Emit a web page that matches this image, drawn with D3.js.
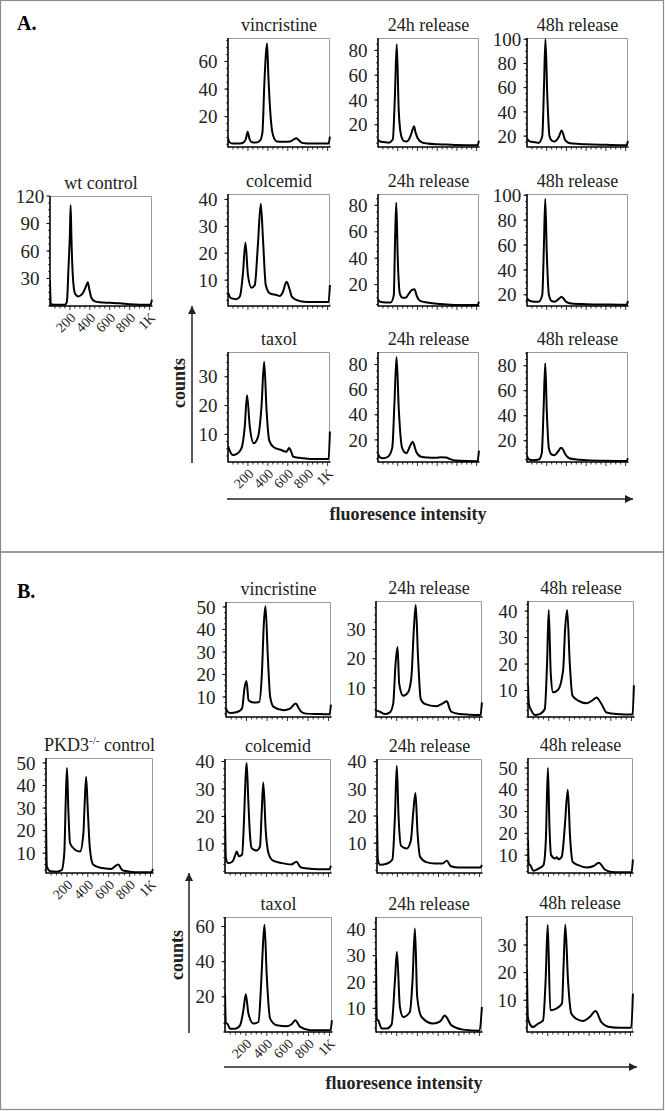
<!DOCTYPE html>
<html><head><meta charset="utf-8">
<script src="https://cdn.jsdelivr.net/npm/d3@7"></script>
<style>
html,body{margin:0;padding:0;background:#fff;}
svg{display:block;}
svg text{font-family:"Liberation Serif","DejaVu Serif",serif;}
</style></head>
<body>
<script>
// ---------- DATA (fluorescence channel, counts) ----------
const xTickValues = [200, 400, 600, 800, 1000];
const xTickLabels = ["200", "400", "600", "800", "1K"];

// Panel A (wt)
const aWtControl = [[0,28],[8,2],[40,1.5],[150,1.5],[170,5],[185,40],[200,80],[207,110],[215,75],[228,35],[250,14],[285,10.5],[330,14],[360,21],[380,26],[395,18],[415,9],[450,5],[500,4],[600,3.5],[700,3],[800,2],[900,1.5],[1010,1.5],[1023,7]];
const aVinc = [[0,4.5],[10,2],[40,0.5],[120,0.5],[160,1.5],[180,4],[197,9],[215,4],[240,1.5],[280,1.2],[320,2.5],[345,8],[365,44],[380,65],[392,73],[405,50],[423,25],[450,7],[490,2],[550,1.8],[625,2],[660,3.5],[686,4.3],[710,3],[744,1],[800,0.6],[900,0.5],[1010,0.5],[1023,5.5]];
const aVinc24 = [[0,8],[20,6.5],[60,6],[110,5.5],[150,8],[170,40],[190,85],[210,32],[235,11],[260,7],[290,6.5],[330,11],[350,16],[365,18.7],[380,14],[400,9.5],[450,5.5],[500,4.8],[600,4.2],[700,4],[800,3.6],[900,3.5],[1010,3.5],[1023,7]];
const aVinc48 = [[0,18],[30,15.5],[80,15],[120,14.5],[155,20],[172,60],[187,100],[205,55],[228,20],[255,16],[280,15.5],[320,19],[352,24.6],[370,21],[385,17],[420,14.5],[460,13.8],[600,13.2],[800,12.8],[1010,12.5],[1023,16]];
const aColc = [[0,5.5],[30,3.3],[85,2.9],[120,4],[150,12.5],[175,24],[200,12],[236,7.2],[269,8.2],[300,23],[329,38.4],[352,24.7],[379,8.2],[420,5.1],[487,4.5],[520,4.1],[550,5.5],[588,9.4],[615,7],[640,3.9],[690,2.6],[790,1.9],[900,1.9],[1010,1.9],[1023,8.2]];
const aColc24 = [[0,9],[20,7],[80,6.5],[130,6.5],[160,12],[172,50],[185,82],[200,40],[222,13],[250,10],[280,10],[320,14],[345,16],[370,16.5],[395,11],[430,7.5],[500,6.5],[600,5.5],[700,5],[800,4.5],[1010,4.5],[1023,7]];
const aColc48 = [[0,17],[30,15],[80,14.5],[120,14.5],[155,20],[170,55],[185,97],[200,55],[222,20],[250,15],[280,14.5],[320,16.5],[350,18.5],[370,17],[395,14.5],[450,13],[600,12.5],[800,12.2],[1010,12],[1023,15]];
const aTaxol = [[0,6],[15,4.5],[50,2.8],[90,3.2],[135,5.1],[168,12.6],[191,23.6],[219,12.6],[259,6.9],[302,9.2],[336,19.6],[363,35.2],[387,18.4],[413,8],[453,5.7],[538,4.5],[588,4],[614,5.3],[640,3.5],[655,2.2],[755,1.7],[890,1.4],[1010,1.4],[1023,11]];
const aTaxol24 = [[0,9],[20,6],[50,5.3],[101,6.6],[145,14],[168,52],[188,86],[211,44],[245,13.4],[286,9.4],[330,16],[352,18.6],[370,15],[387,10.6],[437,6.6],[500,6],[588,5.8],[640,6.2],[689,6],[740,4.5],[789,3.5],[900,3.1],[1010,3],[1023,11.5]];
const aTaxol48 = [[0,8],[20,5],[60,4.5],[120,5],[150,10],[168,45],[185,82],[200,45],[222,14],[250,9],[280,8.5],[320,12],[345,14.5],[365,13],[390,9],[430,6],[500,5],[600,4.5],[800,4],[1010,3.8],[1023,6]];

// Panel B (PKD3-/-)
const bControl = [[0,27],[8,4],[40,2],[100,1.8],[150,2.5],[175,10],[190,35],[201,47.8],[214,29],[230,14.4],[278,11.5],[326,10.7],[358,18.9],[370,32],[384,43.8],[400,29],[420,12],[450,5],[520,3.5],[620,3],[690,5],[730,2.5],[800,1.8],[900,1.5],[1010,1.5],[1023,3]];
const bVinc = [[0,5],[15,3.5],[42,2.9],[107,3.3],[156,4.8],[182,14.4],[200,17.1],[220,8.5],[269,7.5],[324,7.8],[350,20.4],[369,42.6],[385,50.3],[408,27.8],[431,10],[464,5.6],[561,4.1],[625,4.8],[680,7.1],[710,5],[736,3.3],[781,2.6],[900,2.4],[1010,2.3],[1023,6.6]];
const bVinc24 = [[0,2.2],[38,1.8],[86,1],[134,1.6],[166,4.5],[189,18.3],[208,24],[224,11.4],[262,7.3],[310,8.5],[342,13.7],[365,29.8],[384,38.4],[406,20.6],[432,6.2],[470,4.5],[582,3.7],[646,4.7],[685,5.4],[710,3],[727,1.8],[806,1],[900,0.8],[1010,0.7],[1023,5]];
const bVinc48 = [[0,12],[8,5],[33,2.4],[65,0.8],[113,1.1],[162,3],[184,20],[200,40.4],[220,16.3],[242,9.3],[291,10.3],[339,17.6],[358,32.8],[378,40.4],[404,20],[429,8.1],[484,6.2],[565,5.2],[630,6.5],[662,7.4],[710,4.9],[759,1.7],[856,1.1],[1010,0.9],[1023,12]];
const bColc = [[0,21],[8,5],[30,3],[70,3.5],[100,6],[113,7.2],[135,5.5],[165,6],[185,20],[200,35],[209,39.4],[225,26],[240,14],[258,8.4],[306,7.6],[338,9],[355,22],[370,32.3],[393,15.1],[420,6.6],[460,4],[550,3],[640,2.5],[690,3.5],[730,1.5],[800,1],[900,0.8],[1010,0.8],[1023,2]];
const bColc24 = [[0,20],[8,4],[30,2],[100,2.5],[150,4],[175,20],[193,38.5],[210,20],[235,9],[290,8],[330,11],[355,22],[375,28.5],[395,14],[420,5],[480,3],[560,2.5],[640,2.5],[680,3.5],[720,1.5],[800,1],[1010,1],[1023,2]];
const bColc48 = [[0,17],[8,6],[22,5.4],[54,2.8],[103,3.8],[151,5.4],[174,16.9],[194,50],[210,22],[225,10],[265,8.5],[280,9],[297,8.1],[329,9.2],[345,15],[361,24.6],[388,40],[410,18.5],[436,6.9],[490,5.4],[572,4.3],[640,5],[691,6.5],[749,3.4],[814,2.3],[900,2.2],[1010,2.2],[1023,8]];
const bTaxol = [[0,22],[8,5],[22,4.8],[48,1.9],[96,1.9],[144,3.8],[176,12.4],[199,21.5],[224,10.5],[272,4.8],[320,5.7],[346,27.6],[362,48],[378,61],[400,31.4],[432,7.6],[496,3.8],[592,3.3],[640,4.5],[672,6.7],[720,2.9],[816,1],[900,1],[1010,1],[1023,6.7]];
const bTaxol24 = [[0,29],[8,6],[22,5.4],[55,2.3],[103,2.3],[151,3.9],[183,20.6],[202,31.4],[231,10.5],[263,6.7],[327,8.6],[353,20.6],[376,40.3],[398,14.3],[440,6.7],[552,4.2],[620,5],[664,7.3],[729,3.5],[841,1.9],[1001,1.5],[1023,10.5]];
const bTaxol48 = [[0,21],[8,4],[26,1.5],[58,0.3],[106,1.5],[155,2.7],[180,17.3],[200,37.3],[225,6.4],[283,7],[338,8.8],[354,23.3],[370,37.3],[396,17.3],[428,5.2],[476,3.3],[541,2.5],[605,3.9],[663,6.1],[718,2.1],[799,0.3],[900,0],[1007,0],[1023,12.4]];

// y-axis domains and ticks per panel
const yDomains = {
  aWtControl:[0,120], aVinc:[-2,77], aVinc24:[2,90], aVinc48:[11,101],
  aColc:[0.4,42], aColc24:[3.8,88.6], aColc48:[11,101],
  aTaxol:[0.4,38.6], aTaxol24:[2.4,90], aTaxol48:[3,91],
  bControl:[1.2,52.2], bVinc:[1.1,52.2], bVinc24:[0,39.8], bVinc48:[0,43.8],
  bColc:[-0.6,40.9], bColc24:[-1,41], bColc48:[1.8,54.6],
  bTaxol:[0,65.4], bTaxol24:[1,44.7], bTaxol48:[-1.5,40.5]
};
const yTicks = {
  aWtControl:[30,60,90,120], aVinc:[20,40,60], aVinc24:[20,40,60,80], aVinc48:[20,40,60,80,100],
  aColc:[10,20,30,40], aColc24:[20,40,60,80], aColc48:[20,40,60,80,100],
  aTaxol:[10,20,30], aTaxol24:[20,40,60,80], aTaxol48:[20,40,60,80],
  bControl:[10,20,30,40,50], bVinc:[10,20,30,40,50], bVinc24:[10,20,30], bVinc48:[10,20,30,40],
  bColc:[10,20,30,40], bColc24:[10,20,30,40], bColc48:[10,20,30,40,50],
  bTaxol:[20,40,60], bTaxol24:[10,20,30,40], bTaxol48:[10,20,30]
};

// ---------- DRAW ----------
const FONT = "'Liberation Serif', 'DejaVu Serif', serif";
const W = 665, H = 1111;
const svg = d3.select("body").append("svg").attr("width", W).attr("height", H)
  .attr("font-family", FONT);
svg.append("rect").attr("width", W).attr("height", H).attr("fill", "#fff");

const frameCol = "#8a8a8a";
svg.append("rect").attr("x",0.5).attr("y",0.5).attr("width",663).attr("height",551.5)
  .attr("fill","none").attr("stroke",frameCol).attr("stroke-width",1.2);
svg.append("rect").attr("x",0.5).attr("y",552).attr("width",663).attr("height",557.5)
  .attr("fill","none").attr("stroke",frameCol).attr("stroke-width",1.2);

svg.append("text").attr("x",17).attr("y",30).attr("font-size",20).attr("font-weight","bold").attr("font-family",FONT).text("A.");
svg.append("text").attr("x",17).attr("y",598).attr("font-size",20).attr("font-weight","bold").attr("font-family",FONT).text("B.");

const dataMap = {aWtControl,aVinc,aVinc24,aVinc48,aColc,aColc24,aColc48,aTaxol,aTaxol24,aTaxol48,
  bControl,bVinc,bVinc24,bVinc48,bColc,bColc24,bColc48,bTaxol,bTaxol24,bTaxol48};

const panels = [
  {key:"aWtControl", title:"wt control", x:50, y:196, w:102, h:110, xl:true},
  {key:"aVinc", title:"vincristine", x:228, y:38, w:102, h:109},
  {key:"aVinc24", title:"24h release", x:378, y:38, w:101, h:109},
  {key:"aVinc48", title:"48h release", x:527, y:38, w:101, h:109},
  {key:"aColc", title:"colcemid", x:228, y:194, w:102, h:112},
  {key:"aColc24", title:"24h release", x:378, y:194, w:101, h:112},
  {key:"aColc48", title:"48h release", x:527, y:194, w:101, h:112},
  {key:"aTaxol", title:"taxol", x:228, y:352, w:102, h:110, xl:true},
  {key:"aTaxol24", title:"24h release", x:378, y:352, w:101, h:110},
  {key:"aTaxol48", title:"48h release", x:527, y:352, w:101, h:110},
  {key:"bControl", title:"PKD3", sup:"-/-", title2:" control", x:46, y:758, w:107, h:115, xl:true},
  {key:"bVinc", title:"vincristine", x:226, y:602, w:105, h:115},
  {key:"bVinc24", title:"24h release", x:376, y:601, w:106, h:116},
  {key:"bVinc48", title:"48h release", x:528, y:601, w:106, h:116},
  {key:"bColc", title:"colcemid", x:225, y:759, w:106, h:114},
  {key:"bColc24", title:"24h release", x:377, y:759, w:105, h:114},
  {key:"bColc48", title:"48h release", x:528, y:758, w:105, h:115},
  {key:"bTaxol", title:"taxol", x:225, y:917, w:107, h:115, xl:true},
  {key:"bTaxol24", title:"24h release", x:376, y:917, w:106, h:115},
  {key:"bTaxol48", title:"48h release", x:527, y:916, w:106, h:116}
];

panels.forEach(p => {
  const g = svg.append("g").attr("transform", `translate(${p.x},${p.y})`);
  const x = d3.scaleLinear().domain([0, 1024]).range([0, p.w]);
  const y = d3.scaleLinear().domain(yDomains[p.key]).range([p.h, 0]);
  g.append("path").attr("d", `M0,0.5H${p.w-0.5}V${p.h}`).attr("fill","none")
    .attr("stroke","#9a9a9a").attr("stroke-width",1);
  const clipId = "clip-" + p.key;
  g.append("clipPath").attr("id", clipId).append("rect")
    .attr("x",0).attr("y",-2).attr("width",p.w+1).attr("height",p.h+2);
  g.append("path").datum(dataMap[p.key])
    .attr("clip-path", `url(#${clipId})`)
    .attr("d", d3.line().curve(d3.curveMonotoneX).x(d => x(d[0])).y(d => y(d[1])))
    .attr("fill","none").attr("stroke","#000").attr("stroke-width",2).attr("stroke-linejoin","round");
  const minor = d3.range(50, 1024, 50);
  g.selectAll(".mx").data(minor).join("line")
    .attr("x1", d => x(d)).attr("x2", d => x(d))
    .attr("y1", p.h).attr("y2", d => p.h + (d % 200 === 0 ? 4 : 2.5))
    .attr("stroke","#000").attr("stroke-width",0.8);
  g.append("line").attr("x1",0).attr("x2",p.w+0.5).attr("y1",p.h).attr("y2",p.h)
    .attr("stroke","#000").attr("stroke-width",1.5);
  g.append("line").attr("x1",0).attr("x2",0).attr("y1",0).attr("y2",p.h+0.5)
    .attr("stroke","#000").attr("stroke-width",1.6);
  const tv = yTicks[p.key];
  const step = tv.length > 1 ? tv[1]-tv[0] : 10;
  const dom = yDomains[p.key];
  const yminor = d3.range(Math.ceil(dom[0]/(step/4))*(step/4), dom[1], step/4);
  g.selectAll(".my").data(yminor).join("line")
    .attr("x1", -2).attr("x2", 0).attr("y1", d => y(d)).attr("y2", d => y(d))
    .attr("stroke","#000").attr("stroke-width",0.7);
  g.selectAll(".ty").data(tv).join("line")
    .attr("x1", -3.5).attr("x2", 0).attr("y1", d => y(d)).attr("y2", d => y(d))
    .attr("stroke","#000").attr("stroke-width",1);
  g.selectAll(".ly").data(tv).join("text")
    .attr("x", -20).attr("y", d => y(d)).attr("dy","0.35em").attr("font-family",FONT)
    .attr("text-anchor","middle").attr("font-size",19).attr("fill","#222").text(d => d);
  if (p.xl) {
    g.selectAll(".lx").data(xTickValues).join("text")
      .attr("transform", (d) => `translate(${x(d)+3},${p.h+9}) rotate(-45)`)
      .attr("text-anchor","end").attr("dy","0.35em").attr("font-size",14).attr("fill","#222")
      .attr("font-family",FONT)
      .text((d,i) => xTickLabels[i]);
  }
  const t = g.append("text").attr("x", p.w/2).attr("y", -7).attr("text-anchor","middle")
    .attr("font-size",18).attr("fill","#222").attr("font-family",FONT);
  if (p.sup) {
    t.append("tspan").text(p.title);
    t.append("tspan").attr("font-size",11).attr("dy",-7).text(p.sup);
    t.append("tspan").attr("dy",7).text(p.title2);
  } else t.text(p.title);
});

svg.append("defs").append("marker").attr("id","arr").attr("viewBox","0 0 10 10")
  .attr("refX",10).attr("refY",5).attr("markerWidth",8).attr("markerHeight",8)
  .attr("markerUnits","userSpaceOnUse").attr("orient","auto")
  .append("path").attr("d","M0,0L10,5L0,10Z").attr("fill","#222");
function arrow(x1,y1,x2,y2){
  svg.append("line").attr("x1",x1).attr("y1",y1).attr("x2",x2).attr("y2",y2)
    .attr("stroke","#222").attr("stroke-width",1.5).attr("marker-end","url(#arr)");
}
function bold(txt, attrs){
  const t = svg.append("text").attr("font-size",18).attr("font-weight","bold")
    .attr("fill","#222").attr("font-family",FONT).attr("text-anchor","middle").text(txt);
  Object.entries(attrs).forEach(([k,v]) => t.attr(k,v));
}
arrow(192, 463, 192, 306);
bold("counts", {transform:"translate(185,383) rotate(-90)"});
arrow(227, 499, 633, 499);
bold("fluoresence intensity", {x:408, y:520});
arrow(189, 1033, 189, 873);
bold("counts", {transform:"translate(183,955) rotate(-90)"});
arrow(224, 1067, 637, 1067);
bold("fluoresence intensity", {x:404, y:1089});
</script>
</body></html>
